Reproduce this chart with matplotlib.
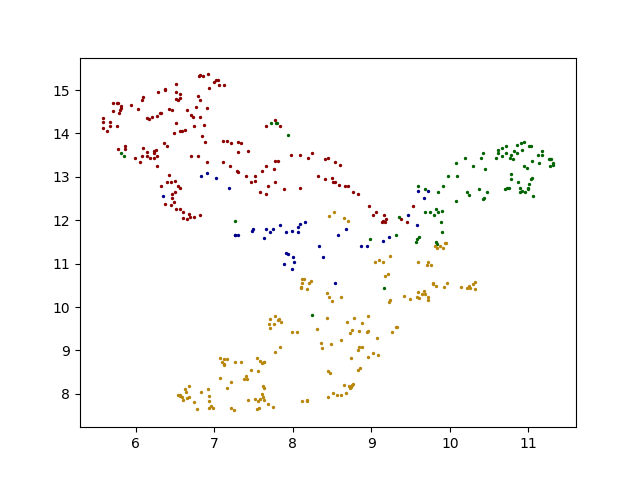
import matplotlib
matplotlib.use("Agg")
import matplotlib.pyplot as plt

red_x = [6.81, 6.86, 6.82, 6.92, 7.00, 7.02, 7.05, 7.06, 7.12, 6.93, 6.52, 6.29, 6.37, 6.37,
         6.51, 6.57, 6.79, 6.09, 6.08, 6.52, 6.54, 6.57, 6.82,
         5.71, 5.77, 5.78, 5.82, 5.82, 5.80, 5.79, 5.71, 5.94, 6.03, 6.77, 6.91,
         6.43, 6.46, 6.31, 6.33, 6.27, 6.21, 6.14, 6.17, 6.66, 6.71, 6.73, 6.82,
         5.58, 5.58, 5.68, 5.59, 5.67, 5.64, 5.76, 6.51, 6.75, 6.87,
         6.49, 6.57, 6.59, 6.63, 6.85, 6.89, 6.36, 6.40,
         7.11, 7.17, 7.22, 7.30, 7.34, 7.43, 7.31, 5.78, 5.87, 5.87,
         6.09, 6.15, 6.26, 6.24, 6.23, 6.27, 6.24, 6.18, 6.14, 6.08, 6.06, 5.99, 6.27,
         6.70, 6.80, 6.91, 7.11, 7.20, 7.29, 7.30, 7.40, 7.52, 7.52, 7.47,
         7.61, 7.66, 7.76, 7.77, 7.81, 7.77, 7.68, 7.66, 7.59, 7.89, 7.98,
         7.66, 7.77, 7.84,
         6.42, 6.32, 6.40, 6.45, 6.50, 6.54, 6.57, 6.47, 6.50, 6.47, 6.49, 6.45, 6.37,
         6.51, 6.57, 6.60, 6.68, 6.69, 6.61, 6.65, 6.75, 6.82,
         8.09, 8.20, 8.25, 8.41, 8.45, 8.54, 8.60, 8.32, 8.41, 8.50, 8.51, 8.54, 8.59,
         8.67, 8.70, 8.77, 8.83, 8.09,
         8.97, 9.06, 9.02, 9.16, 9.19, 9.15, 9.18, 9.14, 9.38, 9.46, 9.53]
red_y = [15.33, 15.32, 15.35, 15.36, 15.19, 15.22, 15.24, 15.12, 15.12, 15.05, 15.13, 14.96, 15.03, 15.01,
         14.96, 14.90, 14.87, 14.83, 14.78, 14.79, 14.78, 14.81, 14.76,
         14.69, 14.69, 14.69, 14.64, 14.59, 14.53, 14.46, 14.52, 14.66, 14.56, 14.62, 14.59,
         14.57, 14.53, 14.48, 14.48, 14.41, 14.39, 14.36, 14.34, 14.53, 14.43, 14.39, 14.39,
         14.36, 14.27, 14.27, 14.13, 14.16, 14.06, 14.16, 14.25, 14.16, 14.20,
         14.02, 14.06, 14.06, 14.09, 13.93, 13.81, 13.79, 13.70,
         13.83, 13.83, 13.79, 13.81, 13.79, 13.60, 13.58, 13.65, 13.72, 13.65,
         13.67, 13.58, 13.63, 13.60, 13.54, 13.47, 13.44, 13.44, 13.49, 13.47, 13.35, 13.44, 13.24,
         13.49, 13.47, 13.35, 13.35, 13.26, 13.14, 13.12, 13.01, 13.01, 12.91, 12.89,
         13.14, 13.26, 13.19, 13.37, 13.37, 12.89, 12.80, 12.61, 12.64, 12.73, 13.51,
         14.18, 14.30, 14.16,
         13.05, 12.80, 12.87, 12.87, 12.91, 12.80, 12.75, 12.61, 12.64, 12.52, 12.41, 12.36, 12.38,
         12.25, 12.25, 12.20, 12.15, 12.08, 12.06, 12.04, 12.08, 12.11,
         13.51, 13.44, 13.54, 13.42, 13.44, 13.35, 13.28, 13.01, 12.94, 12.98, 12.89, 12.89, 12.82,
         12.80, 12.80, 12.66, 12.61, 12.75,
         12.34, 12.20, 12.13, 12.11, 12.02, 11.99, 11.97, 11.95, 12.02, 11.95, 12.32]

blue_x = [6.83, 6.91, 7.02, 7.19, 6.35, 7.26, 7.30, 7.27, 7.48, 7.50, 7.66, 7.71, 7.75, 7.64,
          7.84, 7.92, 7.99,
          8.16, 8.09, 8.07, 8.07, 8.68, 8.58, 9.15, 9.23, 9.47, 9.58, 9.60, 9.72, 9.67,
          7.91, 7.94, 7.89, 7.99,
          8.34, 8.87, 8.95, 8.00, 8.02, 8.39, 8.54]
blue_y = [13.01, 13.10, 12.98, 12.75, 12.55, 11.65, 11.67, 11.65, 11.76, 11.81, 11.79, 11.72, 11.79, 11.58,
          11.90, 11.72, 11.76,
          11.97, 11.92, 11.85, 11.74, 11.79, 11.65, 11.52, 11.62, 12.11, 11.88, 12.68, 12.68, 12.52,
          11.24, 11.22, 10.99, 10.87,
          11.40, 11.40, 11.40, 11.15, 11.05, 11.15, 10.55]

green_x = [7.72, 7.79, 7.80, 7.94, 5.82, 5.85, 7.27,
           9.60, 9.69, 9.92, 9.85, 9.98, 10.09, 10.08, 10.20, 10.30, 10.40, 10.42, 10.45,
           10.37, 10.22, 10.25, 10.44, 10.42, 10.48, 10.08, 9.69, 9.75, 9.83, 9.85, 9.90,
           9.80, 9.89, 9.90, 9.35, 9.32, 8.99, 9.61, 9.58, 9.57, 9.83,
           10.61, 10.62, 10.59, 10.67, 10.71, 10.66, 10.71, 10.77, 10.78, 10.81, 10.82,
           10.86, 10.86, 10.91, 10.95, 10.92, 11.01, 11.03, 11.17, 11.12, 11.17, 11.05,
           11.14, 11.26, 11.28, 11.29, 11.31, 11.32, 11.27, 10.94, 10.98, 10.78, 10.78,
           10.70, 10.73, 10.76, 10.87, 10.89, 10.90, 10.92, 10.96, 10.99, 11.00, 11.01,
           11.04, 11.05, 11.06,
           9.84, 9.16, 8.25]
green_y = [14.23, 14.24, 14.23, 13.97, 13.54, 13.49, 11.99,
           12.78, 12.73, 12.80, 12.64, 13.03, 13.03, 13.33, 13.44, 13.26, 13.44, 13.56, 13.19,
           12.73, 12.64, 12.59, 12.52, 12.48, 12.64, 12.45, 12.18, 12.20, 12.25, 12.20, 12.22,
           12.11, 11.95, 11.72, 12.08, 11.65, 11.56, 11.62, 11.56, 11.51, 11.50,
           13.63, 13.56, 13.44, 13.67, 13.72, 13.47, 13.54, 13.44, 13.51, 13.42, 13.60,
           13.74, 13.54, 13.79, 13.81, 13.63, 13.70, 13.70, 13.60, 13.51, 13.51, 13.37,
           13.31, 13.42, 13.42, 13.42, 13.33, 13.28, 13.26, 13.26, 13.21, 13.07, 12.96,
           12.73, 12.75, 12.75, 12.87, 12.75, 12.64, 12.68, 12.66, 12.75, 12.71, 12.84,
           12.96, 12.98, 12.55,
           11.45, 10.43, 9.81]

gold_x = [8.53, 8.46, 8.65, 8.70,
          7.77, 7.71, 7.81, 7.82, 7.85, 7.70, 7.76, 7.71, 7.99, 7.84, 7.77,
          7.07, 7.12, 7.16, 7.10, 7.13, 7.13, 7.26, 7.34,
          7.54, 7.58, 7.61, 7.63, 7.64, 7.47, 7.56, 7.40, 7.38, 7.42,
          7.07, 7.21, 7.16, 7.62, 7.63, 7.61, 7.62, 7.52, 7.56, 7.58, 7.63, 7.43,
          7.68, 7.75, 7.54, 7.57, 7.21, 7.25,
          6.68, 6.63, 6.64, 6.54, 6.56, 6.57, 6.59, 6.61, 6.65, 6.68, 6.74, 6.78,
          6.83, 6.92, 6.94, 6.93, 6.96, 6.94, 6.99,
          9.81, 9.84, 9.88, 9.92, 9.94, 9.95, 9.24, 9.05, 9.10, 9.15, 9.60, 9.72, 9.71, 9.76,
          9.18, 9.21, 8.12, 8.14, 8.23, 8.21, 8.12, 8.11, 8.11, 8.18,
          8.44, 8.46, 8.50, 8.62, 9.42, 9.49,
          9.60, 9.67, 9.65, 9.69, 9.58, 9.61, 9.72, 9.72, 9.24, 9.23,
          9.79, 9.79, 9.83, 9.93, 9.97,
          10.14, 10.22, 10.25, 10.26, 10.30, 10.32, 10.32,
          8.44, 8.69, 8.78, 8.88, 8.96, 8.76, 8.73, 8.85, 8.95, 8.96, 9.32, 9.33, 9.27, 9.07,
          8.31, 8.06, 8.36, 8.37, 8.49, 8.62, 8.85, 8.88, 8.83, 9.02, 9.09, 8.96, 8.74,
          8.86, 8.83, 8.45, 8.48,
          8.65, 8.72, 8.73, 8.76, 8.77, 8.74, 8.51, 8.56, 8.62, 8.68, 8.45,
          8.12, 8.18, 8.18]
gold_y = [12.20, 12.09, 12.06, 11.99,
          9.79, 9.72, 9.70, 9.72, 9.65, 9.60, 9.60, 9.51, 9.42, 9.07, 8.96,
          8.82, 8.80, 8.80, 8.73, 8.68, 8.66, 8.73, 8.73,
          8.82, 8.75, 8.71, 8.73, 8.73, 8.55, 8.52, 8.41, 8.34, 8.34,
          8.36, 8.27, 8.13, 8.18, 8.13, 7.99, 7.92, 7.88, 7.83, 7.88, 7.85, 7.85,
          7.76, 7.69, 7.65, 7.67, 7.67, 7.62,
          8.18, 8.11, 8.04, 7.97, 7.97, 7.95, 7.92, 7.85, 7.90, 7.92, 7.81, 7.65,
          8.04, 8.11, 7.95, 7.83, 7.72, 7.67, 7.67,
          11.40, 11.35, 11.40, 11.35, 11.47, 11.47, 11.17, 11.05, 11.08, 11.05, 11.05, 11.03, 10.96, 10.96,
          10.71, 10.76, 10.64, 10.64, 10.59, 10.55, 10.55, 10.46, 10.43, 10.41,
          10.32, 10.23, 10.13, 10.23, 10.25, 10.18,
          10.34, 10.36, 10.30, 10.30, 10.23, 10.20, 10.23, 10.16, 10.16, 10.11,
          10.55, 10.53, 10.48, 10.46, 10.55,
          10.46, 10.43, 10.48, 10.43, 10.53, 10.57, 10.41,
          9.74, 9.65, 9.74, 9.63, 9.79, 9.47, 9.40, 9.44, 9.42, 9.44, 9.54, 9.54, 9.42, 9.28,
          9.49, 9.42, 9.17, 9.05, 9.14, 9.24, 9.07, 9.07, 9.01, 8.94, 8.89, 8.84, 8.82,
          8.59, 8.55, 8.52, 8.48,
          8.20, 8.18, 8.13, 8.20, 8.22, 8.15, 8.02, 7.97, 7.97, 8.02, 7.92,
          7.83, 7.85, 7.83]

fig, ax = plt.subplots(figsize=(6.4, 4.8), dpi=100)
ax.scatter(red_x, red_y, s=2, color="darkred")
ax.scatter(blue_x, blue_y, s=2, color="darkblue")
ax.scatter(green_x, green_y, s=2, color="darkgreen")
ax.scatter(gold_x, gold_y, s=2, color="darkgoldenrod")
fig.savefig("out.png")
